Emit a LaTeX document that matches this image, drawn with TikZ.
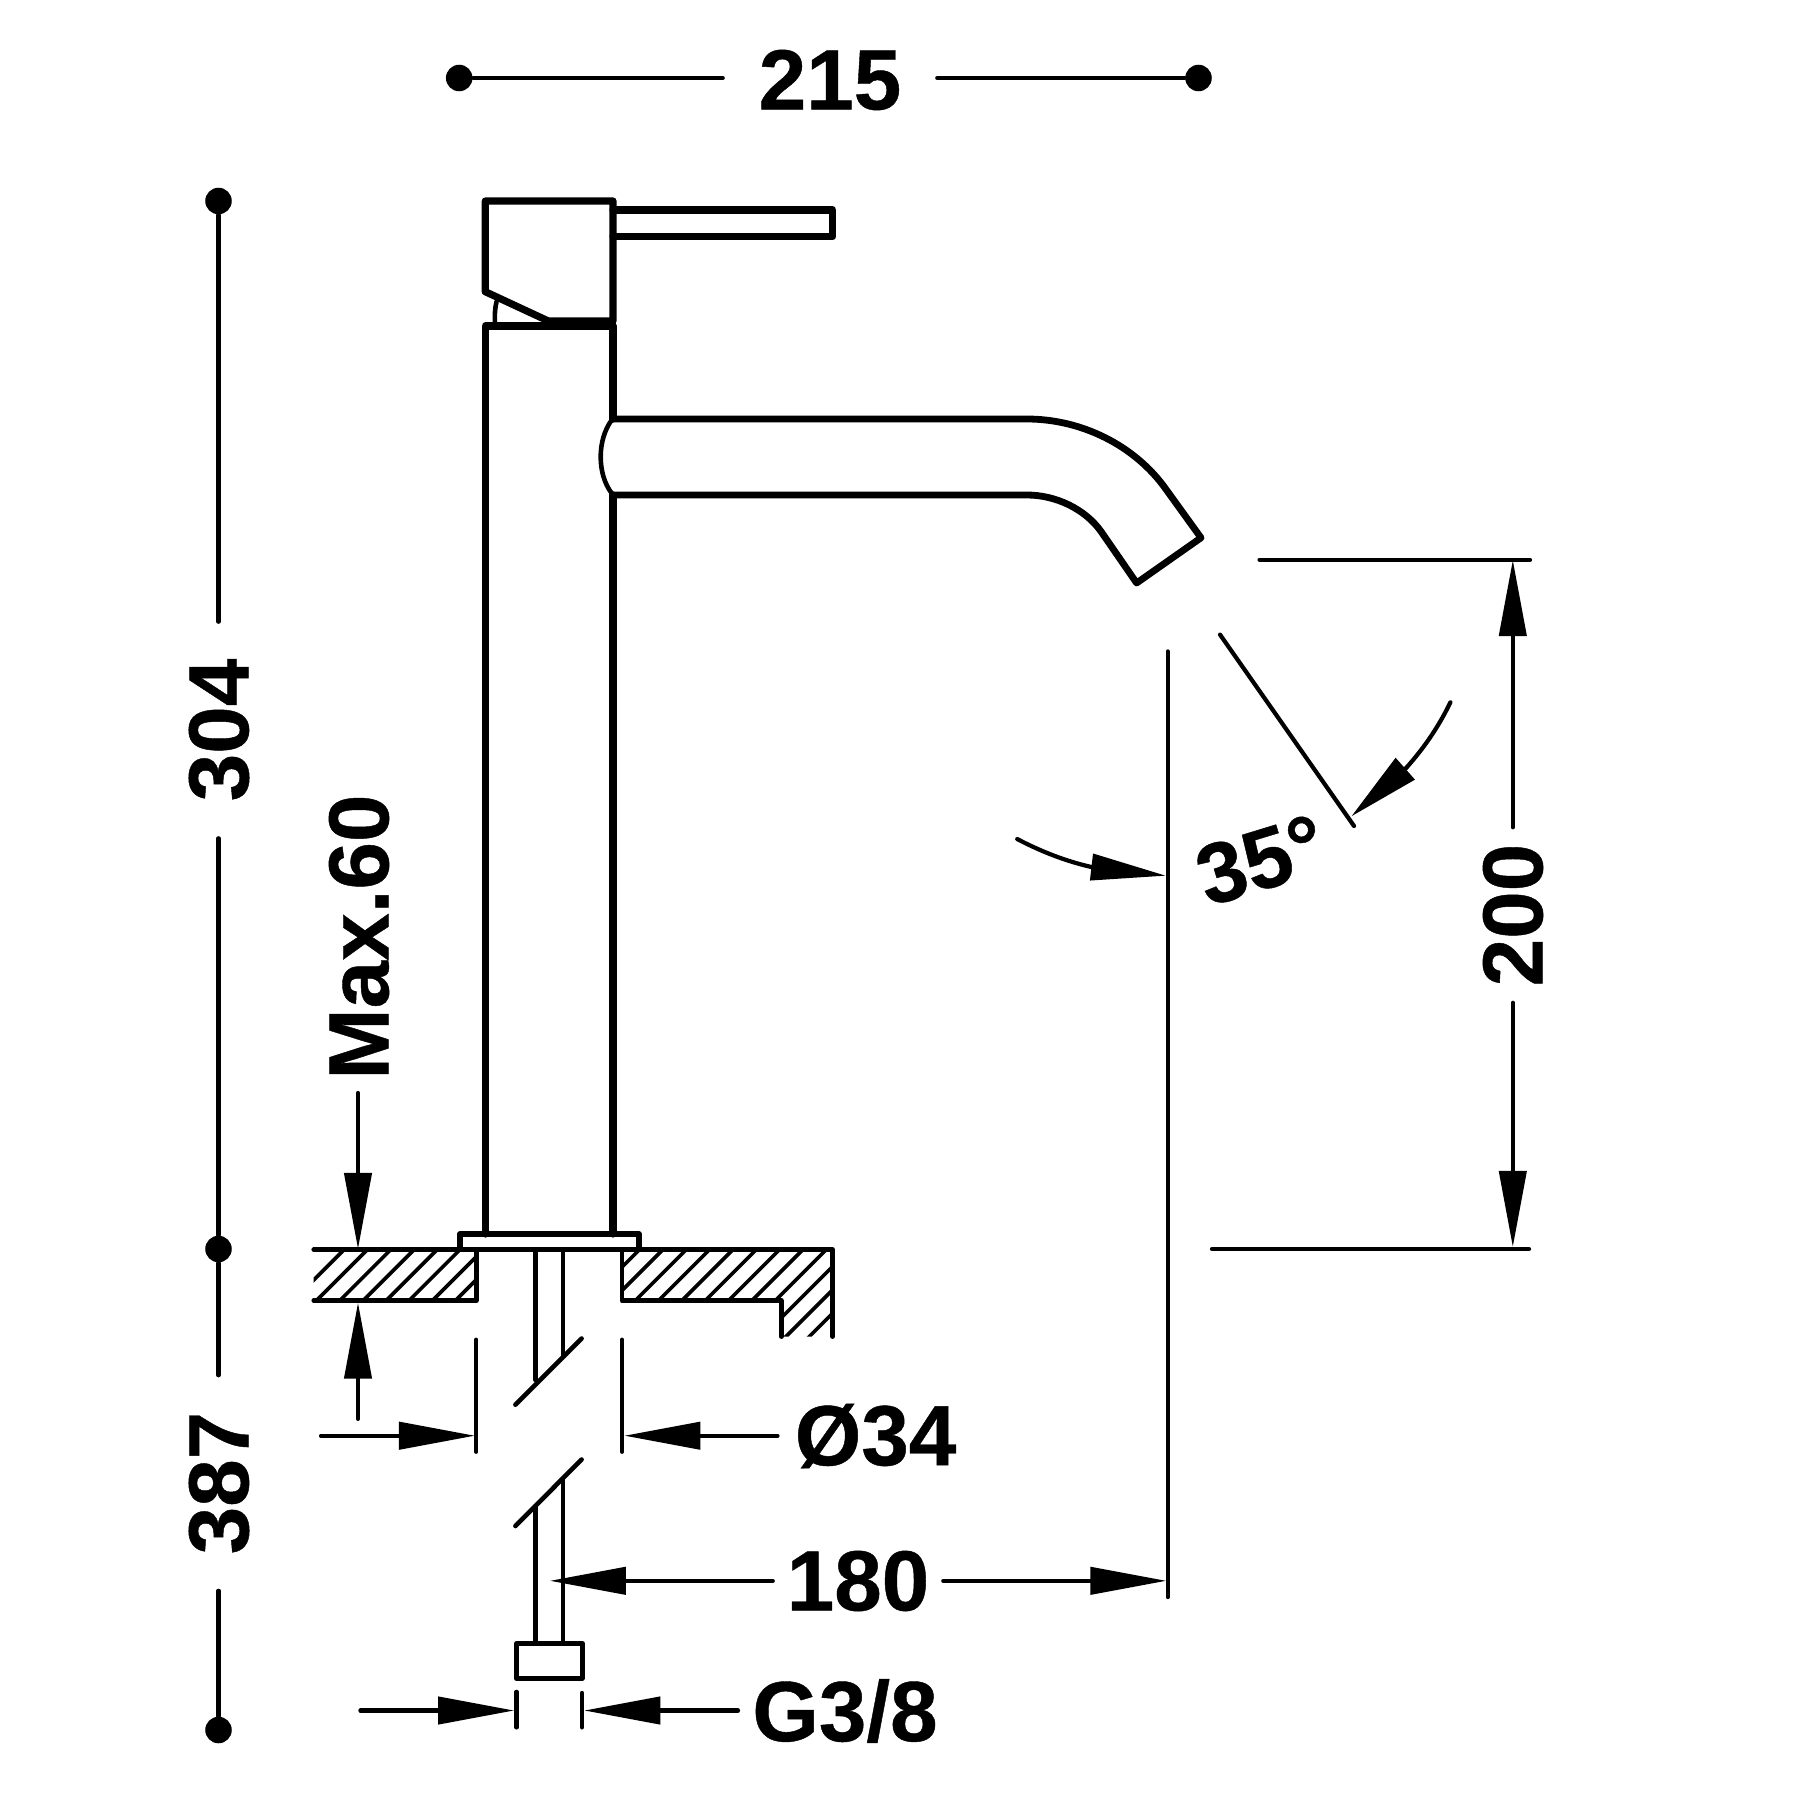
\documentclass[tikz,border=0pt]{standalone}
\usepackage{fontspec}
\setmainfont[BoldFeatures={FakeBold=0.5}]{Liberation Sans}
\usetikzlibrary{arrows.meta,calc}
\tikzset{
  body/.style={line width=0.072cm,line cap=round,line join=round},
  thinpart/.style={line width=0.046cm,line cap=round,line join=round},
  dimline/.style={line width=0.042cm,line cap=round},
  dimarrow/.style={dimline,-{Triangle[length=0.76cm,width=0.27cm]}},
  hatchline/.style={line width=0.036cm},
  dimdot/.style={circle,fill=black,draw=none,inner sep=0pt,minimum size=0.265cm},
  dimtext/.style={font=\bfseries\fontsize{24.3pt}{28pt}\selectfont,inner sep=0pt,text=black}
}
\begin{document}
\begin{tikzpicture}[x=0.01cm,y=-0.01cm]
\path[use as bounding box,fill=white] (0,0) rectangle (1800,1800);

% ---- faucet ----
\draw[body] (613,210) -- (832.7,210) -- (832.7,236.7) -- (613,236.7);
\draw[body] (613,321) -- (613,201) -- (485.3,201) -- (485.3,291.7) -- (548.3,321) -- (613,321);
\draw[body] (485.3,1234) -- (485.3,326) -- (613,326) -- (613,419);
\draw[body] (613,495) -- (613,1234);
\draw[thinpart] (495,324) .. controls (494.5,315) and (495,308) .. (496.5,301.7);
\draw[line width=0.068cm,line join=round,line cap=round]
  (613,419) -- (1027,419) .. controls (1081.5,419) and (1135.2,445.4) .. (1166.5,490)
  -- (1201,537.8) -- (1136.6,583) -- (1101.4,532)
  .. controls (1085.1,508.7) and (1055.4,495) .. (1027,495) -- (613,495);
\draw[thinpart] (611.7,420) .. controls (597,440) and (597,474) .. (611.7,493.3);

% flange
\draw[line width=0.06cm,line join=round,line cap=round]
  (459.9,1248) -- (459.9,1234.4) -- (639,1234.4) -- (639,1248);

% ---- counter top ----
\begin{scope}
  \clip (313.7,1249) rectangle (476.3,1300.6);
  \foreach \c in {1593.7,1617,1640.4,1663.7,1686.7,1709.6,1733,1756}
    \draw[hatchline] ({\c-1200},1200) -- ({\c-1350},1350);
\end{scope}
\begin{scope}
  \clip (621.8,1249) -- (833.8,1249) -- (833.8,1336.6) -- (781.3,1336.6) -- (781.3,1300.6) -- (621.8,1300.6) -- cycle;
  \foreach \k in {0,...,11}
    \draw[hatchline] ({1889.1+23.34*\k-1200},1200) -- ({1889.1+23.34*\k-1400},1400);
\end{scope}
\draw[thinpart] (313.7,1249.7) -- (832.6,1249.7) -- (832.6,1336.6);
\draw[thinpart] (313.7,1300.6) -- (476.3,1300.6) -- (476.3,1249.7);
\draw[thinpart] (621.8,1249.7) -- (621.8,1300.6) -- (781.3,1300.6) -- (781.3,1336.6);

% ---- supply pipe ----
\draw[thinpart] (535.6,1249.7) -- (535.6,1379.9);
\draw[thinpart] (562.8,1249.7) -- (562.8,1355);
\draw[thinpart] (515.4,1404.7) -- (581.6,1338.5);
\draw[thinpart] (515.4,1526) -- (581.6,1459.5);
\draw[thinpart] (535.6,1506.2) -- (535.6,1643.2);
\draw[thinpart] (562.8,1479.4) -- (562.8,1643.2);
\draw[thinpart] (516.5,1643.2) rectangle (582.3,1678.4);

% ---- dots and vertical overall dimensions ----
\node[dimdot] (dA) at (459.2,78) {};
\node[dimdot] (dB) at (1198.5,78) {};
\node[dimdot] (dC) at (218.5,201) {};
\node[dimdot] (dD) at (218.5,1249) {};
\node[dimdot] (dE) at (218.5,1730) {};

\node[dimtext,minimum width=2.13cm] (t215) at (830,80) {215};
\draw[dimline] (dA) -- (dA -| t215.west);
\draw[dimline] (dB) -- (dB -| t215.east);

\node[dimtext,rotate=90,minimum width=2.15cm] (t304) at (219,730) {304};
\draw[dimline] (dC) -- (dC |- t304.east);
\draw[dimline] (dD) -- (dD |- t304.west);

\node[dimtext,rotate=90,minimum width=2.14cm] (t387) at (219,1483) {387};
\draw[dimline] (dD) -- (dD |- t387.east);
\draw[dimline] (dE) -- (dE |- t387.west);

% ---- Max.60 ----
\node[dimtext,rotate=90] (tMax) at (359,937) {Max.60};
\coordinate (m1) at (358,1093);
\coordinate (m2) at (358,1249);
\coordinate (m3) at (358,1418.9);
\coordinate (m4) at (358,1302.6);
\draw[dimarrow] (m1) -- (m2);
\draw[dimarrow] (m3) -- (m4);

% ---- O34 ----
\node[dimtext] (tDia) at (875.6,1436) {Ø34};
\coordinate (e1a) at (476.3,1339.7);
\coordinate (e1b) at (476.3,1451.8);
\coordinate (e2a) at (622.1,1339.7);
\coordinate (e2b) at (622.1,1451.8);
\draw[dimline] (e1a) -- (e1b);
\draw[dimline] (e2a) -- (e2b);
\coordinate (a1) at (321,1435.7);
\coordinate (a2) at (475,1435.7);
\coordinate (a3) at (777.5,1435.7);
\coordinate (a4) at (624.4,1435.7);
\draw[dimarrow] (a1) -- (a2);
\draw[dimarrow] (a3) -- (a4);

% ---- 180 ----
\node[dimtext,minimum width=1.69cm] (t180) at (858,1581) {180};
\coordinate (b1) at (549.8,1580.8);
\coordinate (b2) at (1166.4,1580.8);
\draw[dimarrow] (b1 -| t180.west) -- (b1);
\draw[dimarrow] (b2 -| t180.east) -- (b2);
\coordinate (v1) at (1167.6,651.4);
\coordinate (v2) at (1167.6,1597);
\draw[dimline] (v1) -- (v2);

% ---- G3/8 ----
\node[dimtext] (tG) at (845,1711) {G3/8};
\coordinate (g1a) at (516.5,1691.8);
\coordinate (g1b) at (516.5,1727.4);
\coordinate (g2a) at (582,1692.9);
\coordinate (g2b) at (582,1727.4);
\draw[dimline] (g1a) -- (g1b);
\draw[dimline] (g2a) -- (g2b);
\coordinate (h1) at (360.4,1710.5);
\coordinate (h2) at (514.2,1710.5);
\coordinate (h3) at (738,1710.5);
\coordinate (h4) at (584.2,1710.5);
\draw[dimarrow] (h1) -- (h2);
\draw[dimarrow] (h3) -- (h4);

% ---- 200 ----
\node[dimtext,rotate=90,minimum width=1.74cm] (t200) at (1513,915) {200};
\coordinate (c1a) at (1259.5,559.6);
\coordinate (c1b) at (1530,559.6);
\coordinate (c2a) at (1212,1249);
\coordinate (c2b) at (1529,1249);
\draw[dimline] (c1a) -- (c1b);
\draw[dimline] (c2a) -- (c2b);
\coordinate (c3) at (1512.8,560);
\coordinate (c4) at (1512.8,1247);
\draw[dimarrow] (c3 |- t200.east) -- (c3);
\draw[dimarrow] (c4 |- t200.west) -- (c4);

% ---- 35 degrees ----
\node[dimtext,rotate=17] (t35) at (1261,860) {35°};
\coordinate (s1) at (1220,634.6);
\coordinate (s2) at (1354,826);
\draw[dimline] (s1) -- (s2);
\coordinate (r1) at (1450.4,702.3);
\coordinate (r2) at (1406.5,767.6);
\coordinate (r3) at (1351.3,816.4);
\draw[dimline] (r1) .. controls (1437,730) and (1422,750) .. (r2);
\draw[dimarrow,-{Triangle[length=0.72cm,width=0.28cm]}] (r2) -- (r3);
\coordinate (l1) at (1017.2,839);
\coordinate (l2) at (1091.3,867);
\coordinate (l3) at (1166,875.7);
\draw[dimline] (l1) .. controls (1040,851) and (1065,861) .. (l2);
\draw[dimarrow,-{Triangle[length=0.75cm,width=0.26cm]}] (l2) -- (l3);
\end{tikzpicture}
\end{document}
